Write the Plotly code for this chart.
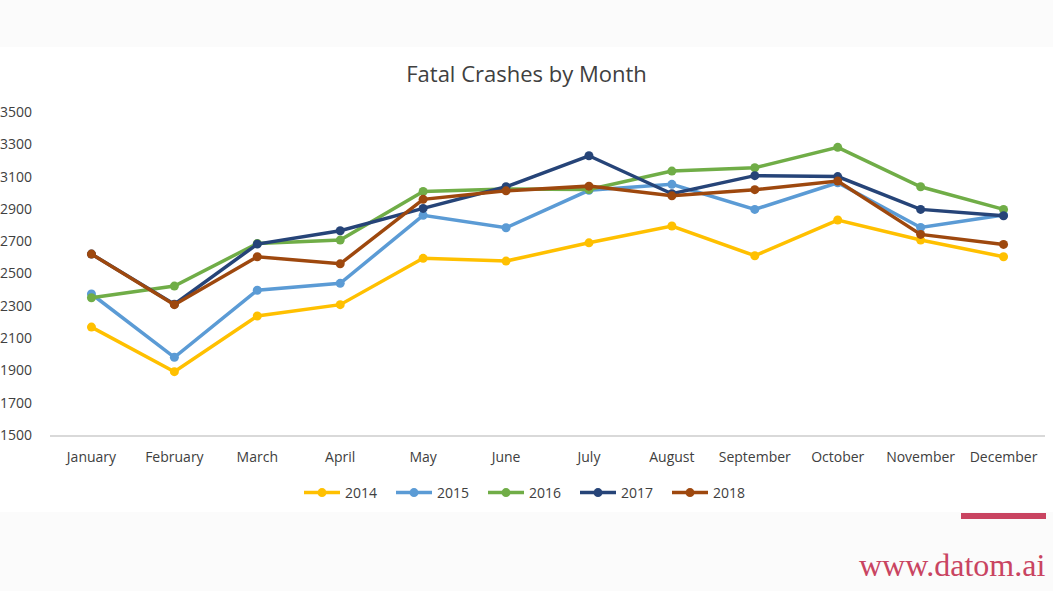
import plotly.graph_objects as go

months = ["January", "February", "March", "April", "May", "June", "July",
          "August", "September", "October", "November", "December"]
y2014 = [2168, 1892, 2237, 2307, 2594, 2577, 2690, 2794, 2610, 2831, 2707, 2604]
y2015 = [2373, 1981, 2396, 2439, 2860, 2783, 3015, 3052, 2897, 3062, 2785, 2862]
y2016 = [2350, 2422, 2686, 2707, 3008, 3023, 3020, 3134, 3155, 3281, 3037, 2897]
y2017 = [2620, 2310, 2682, 2765, 2903, 3037, 3229, 2994, 3106, 3100, 2897, 2857]
y2018 = [2620, 2307, 2604, 2560, 2959, 3012, 3041, 2981, 3019, 3072, 2742, 2680]
series_names = ["2014", "2015", "2016", "2017", "2018"]
series_values = [y2014, y2015, y2016, y2017, y2018]
colors = ["#FFC000", "#5B9BD5", "#70AD47", "#264478", "#9E480E"]
y_ticks = [1500, 1700, 1900, 2100, 2300, 2500, 2700, 2900, 3100, 3300, 3500]

W, H = 1053, 591
L, R, T, B = 50, 8, 112, 156
pw, ph = W - L - R, H - T - B

def px(x):
    return (x - L) / pw

def py(y):
    return (H - B - y) / ph

fig = go.Figure()
for name, vals, c in zip(series_names, series_values, colors):
    fig.add_trace(go.Scatter(
        x=months, y=vals, name=name, mode="lines+markers",
        line=dict(color=c, width=3.5), marker=dict(color=c, size=9)))

font = "Open Sans, DejaVu Sans, sans-serif"
fig.update_layout(
    width=W, height=H,
    margin=dict(l=L, r=R, t=T, b=B, autoexpand=False),
    paper_bgcolor="#fbfbfb",
    plot_bgcolor="white",
    title=dict(text="Fatal Crashes by Month", x=0.5, xanchor="center",
               y=1 - 74 / H, yanchor="middle",
               font=dict(family=font, size=22, color="#404040")),
    showlegend=True,
    legend=dict(orientation="h", x=px(529), xanchor="center",
                y=py(493), yanchor="middle",
                font=dict(family=font, size=14, color="#404040"),
                bgcolor="rgba(0,0,0,0)", itemwidth=36, tracegroupgap=0,
                entrywidth=41, entrywidthmode="pixels"),
    xaxis=dict(range=[-0.5, 11.5], showgrid=False, zeroline=False,
               showline=True, linecolor="#d9d9d9", linewidth=1.5,
               automargin=False,
               tickfont=dict(family=font, size=14, color="#404040"),
               ticks="outside", ticklen=8, tickcolor="rgba(0,0,0,0)"),
    yaxis=dict(range=[1500, 3500], tickvals=y_ticks, showgrid=False,
               zeroline=False, showline=False, automargin=False,
               tickfont=dict(family=font, size=14, color="#404040"),
               ticklabelstandoff=17),
    shapes=[
        dict(type="rect", xref="paper", yref="paper", layer="below",
             x0=px(0), x1=px(W), y0=py(512), y1=py(47),
             fillcolor="white", line=dict(width=0)),
        dict(type="rect", xref="paper", yref="paper",
             x0=px(961), x1=px(1046), y0=py(519), y1=py(513),
             fillcolor="#C94461", line=dict(width=0)),
    ],
    annotations=[
        dict(text="www.datom.ai", xref="paper", yref="paper",
             x=px(1047), y=py(565), xanchor="right", yanchor="middle",
             showarrow=False,
             font=dict(family="Liberation Serif, DejaVu Serif, serif",
                       size=32, color="#C94461")),
    ],
)

fig.write_html("out.html", config={"displayModeBar": False},
               post_script="document.body.style.margin='0';document.body.style.overflow='hidden';")
